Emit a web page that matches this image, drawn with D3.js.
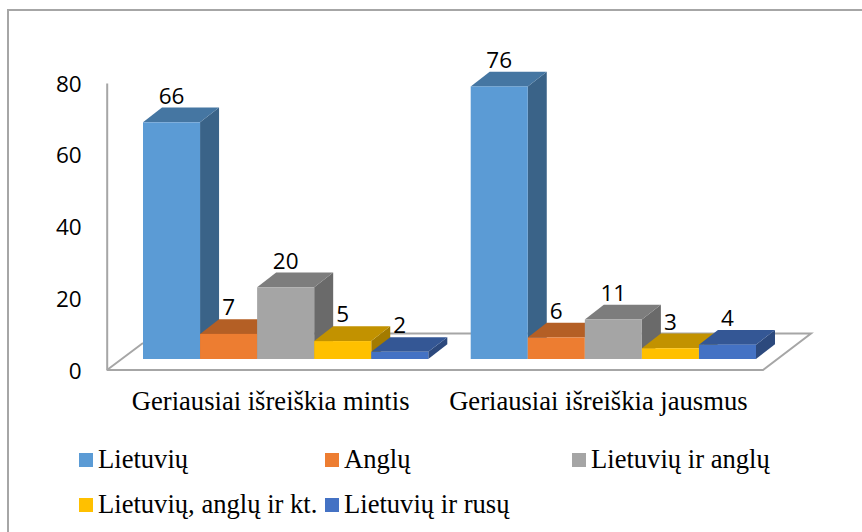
<!DOCTYPE html>
<html>
<head>
<meta charset="utf-8">
<script src="https://cdn.jsdelivr.net/npm/d3@7"></script>
<style>
html,body{margin:0;padding:0;background:#fff;overflow:hidden}
svg{display:block}
</style>
</head>
<body>
<svg id="chart" width="862" height="532"></svg>
<script>
const categories = ["Geriausiai išreiškia mintis", "Geriausiai išreiškia jausmus"];
const seriesNames = ["Lietuvių", "Anglų", "Lietuvių ir anglų", "Lietuvių, anglų ir kt.", "Lietuvių ir rusų"];
const seriesMintis = [66, 7, 20, 5, 2];
const seriesJausmus = [76, 6, 11, 3, 4];
const seriesColors = ["#5b9bd5", "#ed7d31", "#a5a5a5", "#ffc000", "#4472c4"];
const yTicks = [0, 20, 40, 60, 80];

const values = [seriesMintis, seriesJausmus];
const svg = d3.select("#chart");
const serifFont = "'Liberation Serif','Times New Roman',serif";
const numFont = "'Open Sans','Noto Sans',sans-serif";
const lineColor = "#a6a6a6";

const depthX = 19, depthY = 14.7;
const barBase = 359, unitSpan = 286.9;
const floorFront = 370;

const x0 = d3.scaleBand().domain(categories).range([143, 756]).paddingInner(0.1294);
const x1 = d3.scaleBand().domain(seriesNames).range([0, x0.bandwidth()]);
const y = d3.scaleLinear().domain([0, 80]).range([barBase, barBase - unitSpan]);
const yAxisScale = d3.scaleLinear().domain([0, 80]).range([floorFront, floorFront - unitSpan]);

// outer frame (runs off the right and bottom of the picture)
svg.append("path")
  .attr("d", "M8,540V10H870")
  .attr("fill", "none").attr("stroke", lineColor).attr("stroke-width", 2);

// floor
const floor = d3.line();
svg.append("path")
  .attr("d", floor([[107, floorFront], [763, floorFront], [811, 333.5], [143, 333.5]]) + "M107," + floorFront + "L143,343")
  .attr("fill", "none").attr("stroke", lineColor).attr("stroke-width", 2);

// value axis
const axis = d3.axisLeft(yAxisScale).tickValues(yTicks).tickSize(0).tickPadding(25);
const axisG = svg.append("g").attr("transform", "translate(106.7,0)").call(axis);
axisG.select(".domain").attr("stroke", lineColor).attr("stroke-width", 2);
axisG.selectAll("text").attr("font-family", numFont).attr("font-size", 22.5).attr("fill", "#000").attr("dy", "0.36em");

// bars
const flat = categories.flatMap((c, ci) => seriesNames.map((s, si) => ({c, s, si, v: values[ci][si]})));
const bars = svg.append("g").selectAll("g").data(flat).join("g");
const fx = d => x0(d.c) + x1(d.s);
const w = x1.bandwidth();
const poly = pts => "M" + pts.map(p => p.join(",")).join("L") + "Z";

bars.append("path")
  .attr("d", d => { const a = fx(d), t = y(d.v), b = y(0);
    return poly([[a + w, t], [a + w + depthX, t - depthY], [a + w + depthX, b - depthY], [a + w, b]]); })
  .attr("fill", d => { const c = d3.rgb(seriesColors[d.si]); return d3.rgb(c.r * .64, c.g * .64, c.b * .64); });
bars.append("path")
  .attr("d", d => { const a = fx(d), t = y(d.v);
    return poly([[a, t], [a + depthX, t - depthY], [a + w + depthX, t - depthY], [a + w, t]]); })
  .attr("fill", d => { const c = d3.rgb(seriesColors[d.si]); return d3.rgb(c.r * .76, c.g * .76, c.b * .76); });
bars.append("rect")
  .attr("x", fx).attr("y", d => y(d.v)).attr("width", w).attr("height", d => y(0) - y(d.v))
  .attr("fill", d => seriesColors[d.si]);

// data labels
svg.append("g").selectAll("text").data(flat).join("text")
  .attr("x", d => fx(d) + w / 2)
  .attr("y", d => y(d.v) - depthY - 4)
  .attr("text-anchor", "middle")
  .attr("font-family", numFont).attr("font-size", 22.5).attr("fill", "#000")
  .text(d => d.v);

// category labels
svg.append("g").selectAll("text").data(categories).join("text")
  .attr("x", d => x0(d) + x0.bandwidth() / 2 - 15)
  .attr("y", 410)
  .attr("text-anchor", "middle")
  .attr("font-family", serifFont).attr("font-size", 26.6).attr("fill", "#000")
  .text(d => d);

// legend
const legendCols = d3.scaleOrdinal().domain([0, 1, 2]).range([79, 325, 572]);
const legendRows = d3.scaleOrdinal().domain([0, 1]).range([453, 498]);
const leg = svg.append("g").selectAll("g").data(seriesNames).join("g")
  .attr("transform", (d, i) => `translate(${legendCols(i % 3)},${legendRows(Math.floor(i / 3))})`);
leg.append("rect").attr("width", 14).attr("height", 14).attr("fill", (d, i) => seriesColors[i]);
leg.append("text").attr("x", 19).attr("y", 14.5)
  .attr("font-family", serifFont).attr("font-size", 26.6).attr("fill", "#000")
  .text(d => d);
</script>
</body>
</html>
